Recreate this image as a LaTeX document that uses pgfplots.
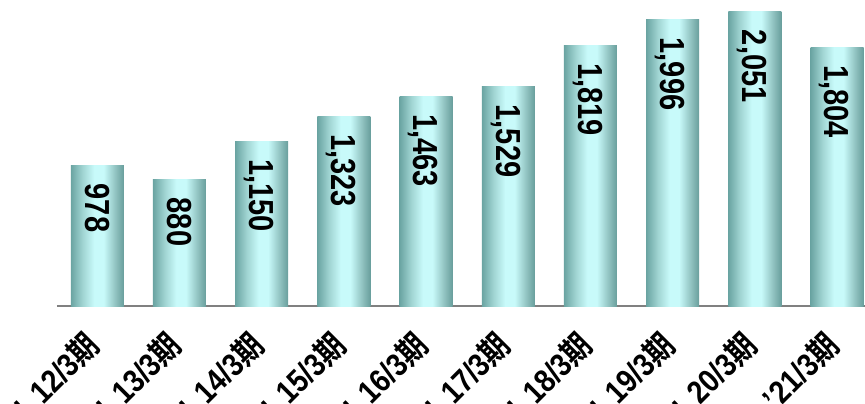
\documentclass[border=0pt]{standalone}
\usepackage{pgfplots}
\pgfplotsset{compat=1.18}
\usepackage{fontspec}
\setmainfont{Liberation Sans}
\newfontfamily\cjk{Noto Sans CJK JP}[BoldFont={Noto Sans CJK JP Bold}]
\definecolor{axisgray}{HTML}{808080}
\definecolor{bA}{RGB}{106,164,162}
\definecolor{bB}{RGB}{160,212,210}
\definecolor{bC}{RGB}{200,250,250}
\definecolor{bD}{RGB}{140,190,188}
\definecolor{bE}{RGB}{104,158,156}
\pgfdeclarehorizontalshading{barshade}{100bp}{%
  color(0bp)=(bA);
  color(25bp)=(bA);
  color(36bp)=(bB);
  color(47bp)=(bC);
  color(56bp)=(bC);
  color(68bp)=(bD);
  color(75bp)=(bE);
  color(100bp)=(bE)}
\newcommand{\lab}[2]{\scalebox{1}[1.15]{\bfseries ’\hspace{#2}#1/3{\cjk\bfseries 期}}}
\pgfplotsset{
  onebar/.style={ybar, bar shift=0pt, bar width=53bp, draw=none, shading=barshade,
    nodes near coords={\scalebox{1}[1.2]{\bfseries\pgfmathprintnumber[assume math mode=true,1000 sep={,}]{\pgfplotspointmeta}}},
    every node near coord/.append style={rotate=-90, anchor=west, inner xsep=18bp, inner ysep=0pt, outer sep=0pt, text depth=0pt, font=\fontsize{29bp}{32bp}\selectfont, black}},
}
\begin{document}
\begin{tikzpicture}
\begin{axis}[
  at={(0,0)}, anchor=south west,
  scale only axis, width=808bp, height=306bp,
  xmin=-0.49, xmax=9.34, ymin=0, ymax=2134,
  hide y axis,
  axis x line*=bottom,
  x axis line style={axisgray, line width=2bp},
  xtick={0,...,9},
  major tick length=0pt,
  xticklabels={{\lab{12}{0.45em}},{\lab{13}{0.45em}},{\lab{14}{0.45em}},{\lab{15}{0.45em}},{\lab{16}{0.45em}},{\lab{17}{0.45em}},{\lab{18}{0.45em}},{\lab{19}{0.45em}},{\lab{20}{0.45em}},{\lab{21}{0.05em}}},
  xticklabel style={rotate=45, anchor=north east, font=\fontsize{28bp}{32bp}\selectfont, inner sep=0pt, yshift=-5bp, xshift=-26bp},
  clip=false,
]
\addplot[onebar] coordinates {(0,978)};
\addplot[onebar] coordinates {(1,880)};
\addplot[onebar] coordinates {(2,1150)};
\addplot[onebar] coordinates {(3,1323)};
\addplot[onebar] coordinates {(4,1463)};
\addplot[onebar] coordinates {(5,1529)};
\addplot[onebar] coordinates {(6,1819)};
\addplot[onebar] coordinates {(7,1996)};
\addplot[onebar] coordinates {(8,2051)};
\addplot[onebar] coordinates {(9,1804)};
\end{axis}
\pgfresetboundingbox
\path[use as bounding box] (-57bp,-98bp) rectangle (808bp,306bp);
\end{tikzpicture}
\end{document}
